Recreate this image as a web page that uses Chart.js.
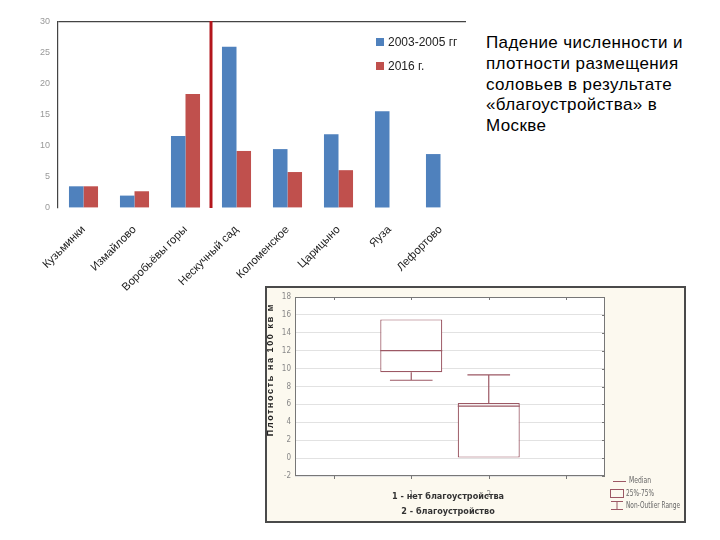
<!DOCTYPE html>
<html><head><meta charset="utf-8">
<script src="https://cdn.jsdelivr.net/npm/chart.js@4.4.1/dist/chart.umd.min.js"></script>
<style>
html,body{margin:0;padding:0;background:#fff;width:720px;height:540px;overflow:hidden;}
#bars{position:absolute;left:0;top:0;}
#txt{position:absolute;left:486px;top:33px;font:17px "Liberation Sans",Arial,sans-serif;letter-spacing:0.4px;line-height:20.75px;color:#000;}
#boxwrap{position:absolute;left:265px;top:286px;width:421px;height:237px;box-sizing:border-box;border:2px solid #4a4a4a;background:#fcf9ef;}
#box{position:absolute;left:265px;top:286px;}
</style></head>
<body>
<canvas id="bars" width="480" height="300"></canvas>
<div id="txt">Падение численности и<br>плотности размещения<br>соловьев в результате<br>«благоустройства» в<br>Москве</div>
<div id="boxwrap"></div>
<canvas id="box" width="421" height="237"></canvas>
<script>
// ---- Bar chart data ----
const parks = ['Кузьминки','Измайлово','Воробьёвы горы','Нескучный сад','Коломенское','Царицыно','Яуза','Лефортово'];
const series2003 = [3.5, 2.0, 11.6, 26.0, 9.5, 11.9, 15.6, 8.7];
const series2016 = [3.5, 2.7, 18.4, 9.2, 5.8, 6.1, null, null];
const seriesLabels = ['2003-2005 гг', '2016 г.'];
const yTicksBars = [0, 5, 10, 15, 20, 25, 30];
const dividerAfterIndex = 2; // red line between Воробьёвы горы and Нескучный сад

// ---- Box plot data ----
const groups = ['1', '2'];
const q1 = [9.6, 0.0];
const q3 = [15.5, 6.15];
const median = [12.0, 5.8];
const whiskerLow = [8.7, 0.0];
const whiskerHigh = [15.5, 9.3];
const boxLegend = ['Median', '25%-75%', 'Non-Outlier Range'];
const boxXTitle = ['1 - нет благоустройства', '2 - благоустройство'];
const boxYTitle = 'Плотность на 100 кв м';

const BLUE = '#4f81bd', RED = '#c0504d';

const barLegendPlugin = {
  id: 'barLegend',
  afterDraw(chart) {
    const ctx = chart.ctx;
    ctx.save();
    ctx.font = '12px "Liberation Sans", Arial, sans-serif';
    ctx.textBaseline = 'middle';
    chart.data.datasets.forEach((ds, i) => {
      const y = 42 + i * 24;
      ctx.fillStyle = ds.backgroundColor;
      ctx.fillRect(376, y - 4, 8, 8);
      ctx.fillStyle = '#222';
      ctx.fillText(ds.label, 388, y + 1);
    });
    ctx.restore();
  }
};
const dividerPlugin = {
  id: 'divider',
  afterDatasetsDraw(chart) {
    const x = chart.scales.x;
    const px = (x.getPixelForValue(dividerAfterIndex) + x.getPixelForValue(dividerAfterIndex + 1)) / 2;
    const ctx = chart.ctx;
    ctx.save();
    ctx.strokeStyle = '#b3161c';
    ctx.lineWidth = 3;
    ctx.beginPath();
    ctx.moveTo(px, chart.chartArea.top - 1);
    ctx.lineTo(px, chart.chartArea.bottom);
    ctx.stroke();
    ctx.restore();
  }
};

new Chart(document.getElementById('bars'), {
  type: 'bar',
  data: {
    labels: parks,
    datasets: [
      {label: seriesLabels[0], data: series2003, backgroundColor: BLUE},
      {label: seriesLabels[1], data: series2016, backgroundColor: RED}
    ]
  },
  options: {
    responsive: false, animation: false,
    layout: {padding: {top: 22, right: 14, left: 0, bottom: 0}},
    plugins: {legend: {display: false}, tooltip: {enabled: false}},
    datasets: {bar: {categoryPercentage: 0.57, barPercentage: 1.0}},
    scales: {
      y: {
        min: 0, max: 30,
        afterBuildTicks(s) { s.ticks = yTicksBars.map(v => ({value: v})); },
        afterFit(s) { s.width = 58; },
        ticks: {color: '#999', font: {size: 9, family: '"Liberation Sans", Arial'}, padding: 8},
        grid: {drawTicks: false, color: c => (c.tick && c.tick.value === 30) ? '#444' : 'rgba(0,0,0,0)', lineWidth: 1.2},
        border: {color: '#444', width: 1.2}
      },
      x: {
        afterFit(s) { s.height = 92; },
        grid: {display: false},
        border: {display: false},
        ticks: {minRotation: 45, maxRotation: 45, autoSkip: false, color: '#222', font: {size: 11.3, family: '"Liberation Sans", Arial'}, padding: 7}
      }
    }
  },
  plugins: [barLegendPlugin, dividerPlugin]
});

// ---- Box plot ----
const BOXC = '#9c5864';
const plotBgPlugin = {
  id: 'plotBg',
  beforeDraw(chart) {
    const {ctx, chartArea: a} = chart;
    ctx.save();
    ctx.fillStyle = '#fff';
    ctx.fillRect(a.left, a.top, a.right - a.left, a.bottom - a.top);
    ctx.restore();
  },
  afterDraw(chart) {
    const {ctx, chartArea: a, scales} = chart;
    ctx.save();
    ctx.strokeStyle = '#777';
    ctx.lineWidth = 1;
    ctx.strokeRect(a.left + 0.5, a.top + 0.5, a.right - a.left - 1, a.bottom - a.top - 1);
    // inner tick marks (Statistica style)
    ctx.beginPath();
    scales.y.ticks.forEach((t, i) => {
      const y = Math.round(scales.y.getPixelForTick(i)) + 0.5;
      ctx.moveTo(a.right, y); ctx.lineTo(a.right - 3, y);
    });
    scales.x.ticks.forEach((t, i) => {
      const x = Math.round(scales.x.getPixelForTick(i)) + 0.5;
      ctx.moveTo(x, a.top); ctx.lineTo(x, a.top + 3);
      ctx.moveTo(x, a.bottom); ctx.lineTo(x, a.bottom + 3);
    });
    ctx.stroke();
    // y title
    ctx.fillStyle = '#222';
    ctx.font = 'bold 9px "Liberation Sans", Arial, sans-serif';
    if ('letterSpacing' in ctx) ctx.letterSpacing = '1.6px';
    ctx.translate(a.left - 24, (a.top + a.bottom) / 2 - 17);
    ctx.rotate(-Math.PI / 2);
    ctx.textAlign = 'center';
    ctx.textBaseline = 'middle';
    ctx.fillText(boxYTitle, 0, 0);
    ctx.restore();
    // x title
    ctx.save();
    if ('letterSpacing' in ctx) ctx.letterSpacing = '0px';
    ctx.fillStyle = '#333';
    ctx.font = 'bold 9px "Liberation Sans Narrow", "DejaVu Sans Condensed", sans-serif';
    ctx.textAlign = 'center';
    ctx.textBaseline = 'middle';
    boxXTitle.forEach((t, i) => ctx.fillText(t, (a.left + a.right) / 2 - 2, a.bottom + 21 + i * 15));
    // legend
    const lx = a.right + 5;
    ctx.font = '8px "Liberation Sans Narrow", "DejaVu Sans Condensed", sans-serif';
    ctx.textAlign = 'left';
    ctx.fillStyle = '#666';
    ctx.strokeStyle = BOXC;
    ctx.lineWidth = 1;
    const y0 = a.bottom + 5;
    ctx.beginPath(); ctx.moveTo(lx + 3, y0 + 0.5); ctx.lineTo(lx + 16, y0 + 0.5); ctx.stroke();
    ctx.fillText(boxLegend[0], lx + 19, y0, 22);
    const y1 = y0 + 13;
    ctx.strokeRect(lx + 0.5, y1 - 4.5, 13, 8);
    ctx.fillText(boxLegend[1], lx + 16, y1, 28);
    const y2 = y0 + 25;
    ctx.beginPath();
    ctx.moveTo(lx + 1, y2 - 4.5); ctx.lineTo(lx + 13, y2 - 4.5);
    ctx.moveTo(lx + 7, y2 - 4.5); ctx.lineTo(lx + 7, y2 + 3.5);
    ctx.moveTo(lx + 1, y2 + 3.5); ctx.lineTo(lx + 13, y2 + 3.5);
    ctx.stroke();
    ctx.fillText(boxLegend[2], lx + 16, y2, 54);
    ctx.restore();
  }
};
const whiskerPlugin = {
  id: 'whiskers',
  afterDatasetsDraw(chart) {
    const {ctx, scales: {x, y}} = chart;
    const catW = x.getPixelForValue(1) - x.getPixelForValue(0);
    const boxW = catW * 0.8;
    ctx.save();
    ctx.strokeStyle = BOXC;
    ctx.lineWidth = 1.2;
    groups.forEach((g, i) => {
      const cx = x.getPixelForValue(i + 1);
      const cap = catW * 0.55 / 2;
      ctx.beginPath();
      // median
      ctx.moveTo(cx - boxW / 2, y.getPixelForValue(median[i]));
      ctx.lineTo(cx + boxW / 2, y.getPixelForValue(median[i]));
      // upper whisker
      if (whiskerHigh[i] > q3[i]) {
        ctx.moveTo(cx, y.getPixelForValue(q3[i]));
        ctx.lineTo(cx, y.getPixelForValue(whiskerHigh[i]));
        ctx.moveTo(cx - cap, y.getPixelForValue(whiskerHigh[i]));
        ctx.lineTo(cx + cap, y.getPixelForValue(whiskerHigh[i]));
      }
      if (whiskerLow[i] < q1[i]) {
        ctx.moveTo(cx, y.getPixelForValue(q1[i]));
        ctx.lineTo(cx, y.getPixelForValue(whiskerLow[i]));
        ctx.moveTo(cx - cap, y.getPixelForValue(whiskerLow[i]));
        ctx.lineTo(cx + cap, y.getPixelForValue(whiskerLow[i]));
      }
      ctx.stroke();
    });
    ctx.restore();
  }
};

new Chart(document.getElementById('box'), {
  type: 'bar',
  data: {
    labels: ['', ...groups, ''],
    datasets: [{
      data: [null, ...groups.map((g, i) => [q1[i], q3[i]]), null],
      backgroundColor: '#fff',
      borderColor: BOXC,
      borderWidth: 1.2,
      borderSkipped: false,
      barPercentage: 0.8,
      categoryPercentage: 1.0
    }]
  },
  options: {
    responsive: false, animation: false,
    layout: {padding: {top: 11, right: 81, left: 0, bottom: 0}},
    plugins: {legend: {display: false}, tooltip: {enabled: false}},
    scales: {
      y: {
        min: -2, max: 18,
        ticks: {stepSize: 2, color: '#888', font: {size: 8, family: '"Liberation Sans Narrow", "DejaVu Sans Condensed", sans-serif'}, padding: 4},
        afterFit(s) { s.width = 30; },
        grid: {color: '#e2e2e2', drawTicks: false},
        border: {display: false}
      },
      x: {
        ticks: {color: '#888', font: {size: 8, family: '"Liberation Sans Narrow", "DejaVu Sans Condensed", sans-serif'}, padding: 6},
        afterFit(s) { s.height = 47; },
        grid: {display: false},
        border: {display: false}
      }
    }
  },
  plugins: [plotBgPlugin, whiskerPlugin]
});
</script>
</body></html>
